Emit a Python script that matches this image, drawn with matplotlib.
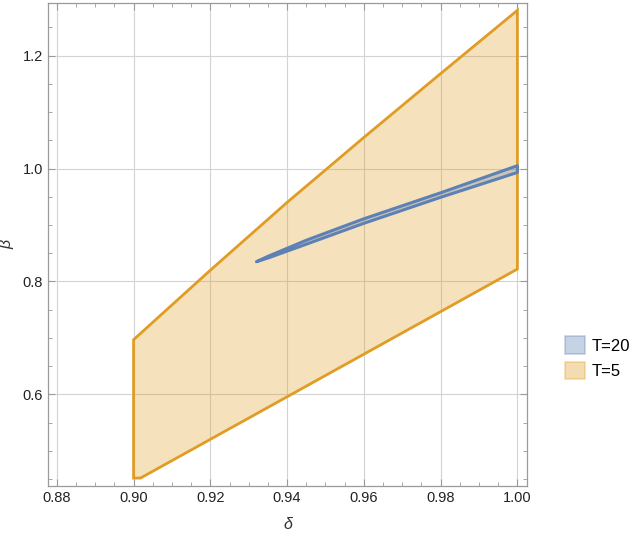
import numpy as np
import matplotlib
matplotlib.use('Agg')
import matplotlib.pyplot as plt
from matplotlib.patches import Polygon, Patch
from matplotlib.ticker import MultipleLocator

plt.rcParams['font.family'] = ['Liberation Sans', 'DejaVu Sans']

# --- dati ---
# regione T=5 (contorno, senso orario)
t5_delta = [0.900, 0.900, 0.920, 0.940, 0.960, 0.980, 1.000, 1.000, 0.9018, 0.900]
t5_beta = [0.452, 0.697, 0.820, 0.940, 1.055, 1.168, 1.280, 0.822, 0.452, 0.452]

# regione T=20 (banda sottile)
t20_sup_delta = [0.9320, 0.935, 0.945, 0.960, 0.980, 1.000]
t20_sup_beta = [0.835, 0.8445, 0.873, 0.911, 0.957, 1.005]
t20_inf_delta = [0.9320, 0.935, 0.945, 0.960, 0.980, 1.000]
t20_inf_beta = [0.835, 0.8415, 0.866, 0.903, 0.949, 0.993]

etichette = ['T=20', 'T=5']
col_blu = '#5E81B5'
col_arancio = '#E09C24'

fig = plt.figure(figsize=(6.34, 5.34), dpi=100)
ax = fig.add_axes([0.0757, 0.0899, 0.7555, 0.9045])

# T=5
pts5 = np.column_stack([t5_delta, t5_beta])
ax.add_patch(Polygon(pts5, closed=True, facecolor=col_arancio, alpha=0.3,
                     edgecolor='none', zorder=2))
ax.add_patch(Polygon(pts5, closed=True, facecolor='none',
                     edgecolor=col_arancio, lw=2, zorder=3))

# T=20
x20 = list(t20_sup_delta) + list(t20_inf_delta[::-1])
y20 = list(t20_sup_beta) + list(t20_inf_beta[::-1])
pts20 = np.column_stack([x20, y20])
ax.add_patch(Polygon(pts20, closed=True, facecolor=col_blu, alpha=0.3,
                     edgecolor='none', zorder=4))
ax.add_patch(Polygon(pts20, closed=True, facecolor='none',
                     edgecolor=col_blu, lw=2.2, zorder=5, joinstyle='round'))

ax.set_xlim(0.8777, 1.0025)
ax.set_ylim(0.438, 1.293)

ax.xaxis.set_major_locator(MultipleLocator(0.02))
ax.xaxis.set_minor_locator(MultipleLocator(0.005))
ax.yaxis.set_major_locator(MultipleLocator(0.2))
ax.yaxis.set_minor_locator(MultipleLocator(0.05))
ax.xaxis.set_major_formatter(matplotlib.ticker.FormatStrFormatter('%.2f'))
ax.yaxis.set_major_formatter(matplotlib.ticker.FormatStrFormatter('%.1f'))

ax.grid(True, which='major', color='#d3d3d3', lw=0.8, zorder=1)
ax.tick_params(which='both', direction='in', top=True, right=True,
               color='#9a9a9a', labelsize=10.5, labelcolor='#222222')
ax.tick_params(which='major', length=5)
ax.tick_params(which='minor', length=3)
for s in ax.spines.values():
    s.set_color('#9a9a9a')
    s.set_linewidth(0.9)

ax.set_xlabel('δ', fontsize=11.5, fontstyle='italic', color='#333333', labelpad=9)
ax.set_ylabel('β', fontsize=11.5, fontstyle='italic', color='#333333', labelpad=6)

maniglie = [Patch(facecolor=col_blu, alpha=0.35, edgecolor=col_blu, lw=1.2),
            Patch(facecolor=col_arancio, alpha=0.35, edgecolor=col_arancio, lw=1.2)]
leg = fig.legend(maniglie, etichette, loc='center left',
                 bbox_to_anchor=(0.868, 0.33), frameon=False, fontsize=12,
                 handlelength=1.2, handleheight=1.2, handletextpad=0.4,
                 labelspacing=0.5)
for h in leg.legend_handles:
    ec = h.get_facecolor()
    h.set_edgecolor((ec[0], ec[1], ec[2], 1.0))

fig.savefig('out.png', dpi=100)
